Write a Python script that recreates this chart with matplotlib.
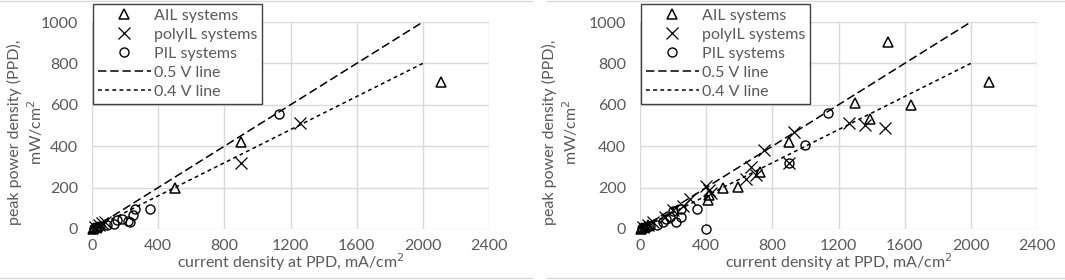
import matplotlib
matplotlib.use('Agg')
import matplotlib.pyplot as plt
from matplotlib.lines import Line2D

plt.rcParams['font.family'] = ['Lato', 'DejaVu Sans']
plt.rcParams['font.size'] = 11.5

# left panel data (current density mA/cm2, peak power density mW/cm2)
ail_left_x = [5, 15, 30, 500, 900, 2110]
ail_left_y = [0, 5, 10, 200, 420, 710]
poly_left_x = [20, 40, 60, 80, 900, 1260]
poly_left_y = [10, 20, 30, 35, 320, 510]
pil_left_x = [10, 30, 50, 90, 130, 150, 180, 220, 230, 250, 260, 350, 1130]
pil_left_y = [5, 10, 15, 20, 25, 45, 50, 40, 35, 70, 95, 95, 555]

# right panel data
ail_right_x = [5, 15, 30, 50, 410, 420, 500, 595, 725, 900, 1300, 1390, 1500, 1640, 2110]
ail_right_y = [0, 5, 10, 20, 140, 165, 200, 205, 275, 420, 610, 530, 905, 600, 710]
poly_right_x = [20, 50, 80, 150, 200, 260, 300, 400, 420, 430, 640, 670, 700, 750,
                900, 930, 1265, 1360, 1480]
poly_right_y = [10, 20, 35, 60, 90, 110, 145, 210, 190, 175, 240, 300, 260, 380,
                320, 470, 510, 500, 490]
pil_right_x = [10, 30, 60, 100, 140, 155, 180, 200, 215, 250, 250, 345, 400, 900, 1000, 1135]
pil_right_y = [5, 10, 15, 20, 35, 50, 60, 85, 35, 95, 60, 95, 0, 320, 405, 560]

line_x = [0, 2000]
line05_y = [0, 1000]
line04_y = [0, 800]

grid_c = '#d9d9d9'
text_c = '#595959'
fs = 11.5

fig = plt.figure(figsize=(10.65, 2.8), dpi=100)


def make_panel(left_px, ail, poly, pil, label_px):
    W, H = 1065, 280
    ax = fig.add_axes([left_px / W, (H - 229) / H, 397 / W, 207 / H])
    ax.set_xlim(0, 2400)
    ax.set_ylim(0, 1000)
    ax.set_xticks(range(0, 2401, 400))
    ax.set_yticks(range(0, 1001, 200))
    ax.grid(True, color=grid_c, lw=1)
    ax.set_axisbelow(True)
    for s in ax.spines.values():
        s.set_visible(False)
    ax.tick_params(length=0, colors=text_c, labelsize=fs)
    ax.tick_params(axis='x', pad=7)
    ax.tick_params(axis='y', pad=10)

    ax.plot(line_x, line05_y, color='black', lw=1.1, dashes=(5.5, 2.5))
    ax.plot(line_x, line04_y, color='black', lw=1.1, dashes=(2.5, 2.2))
    ax.plot(ail[0], ail[1], ls='none', marker='^', ms=7, mfc='none', mec='black', mew=1.1, clip_on=False)
    ax.plot(poly[0], poly[1], ls='none', marker='x', ms=8, mec='black', mew=0.9, clip_on=False)
    ax.plot(pil[0], pil[1], ls='none', marker='o', ms=6.5, mfc='none', mec='black', mew=1.0, clip_on=False)

    ax.set_xlabel('current density at PPD, mA/cm$^2$', color=text_c, labelpad=-1, fontsize=fs)
    fig.text(label_px / W, 1 - 132 / H, 'peak power density (PPD),\nmW/cm$^2$', rotation=90,
             ha='center', va='center', multialignment='center', color=text_c,
             fontsize=fs, linespacing=1.2)

    handles = [
        Line2D([], [], ls='none', marker='^', ms=7, mfc='none', mec='black', mew=1.1),
        Line2D([], [], ls='none', marker='x', ms=8, mec='black', mew=0.9),
        Line2D([], [], ls='none', marker='o', ms=6.5, mfc='none', mec='black', mew=1.0),
        Line2D([], [], color='black', lw=1.1, dashes=(5.5, 2.5)),
        Line2D([], [], color='black', lw=1.1, dashes=(2.5, 2.2)),
    ]
    labels = ['AIL systems', 'polyIL systems', 'PIL systems', '0.5 V line', '0.4 V line']
    leg = ax.legend(handles, labels, loc='upper left',
                    bbox_to_anchor=((left_px + 1) / W, 1 - 4 / H),
                    bbox_transform=fig.transFigure, borderaxespad=0,
                    fancybox=False, framealpha=1, edgecolor='#404040',
                    handlelength=3.3, handletextpad=0.2, labelspacing=0.3,
                    borderpad=0.3, fontsize=fs)
    leg.get_frame().set_linewidth(1.0)
    for t in leg.get_texts():
        t.set_color(text_c)
    return ax


make_panel(92, (ail_left_x, ail_left_y), (poly_left_x, poly_left_y), (pil_left_x, pil_left_y), 26)
make_panel(640, (ail_right_x, ail_right_y), (poly_right_x, poly_right_y), (pil_right_x, pil_right_y), 561)

# thin chart-area borders at top and bottom
for x0, x1 in [(0, 532), (547, 1065)]:
    for yy in [1, 278]:
        fig.add_artist(Line2D([x0 / 1065, x1 / 1065], [1 - yy / 280, 1 - yy / 280],
                              color=grid_c, lw=1, transform=fig.transFigure))

fig.savefig('out.png', dpi=100)
